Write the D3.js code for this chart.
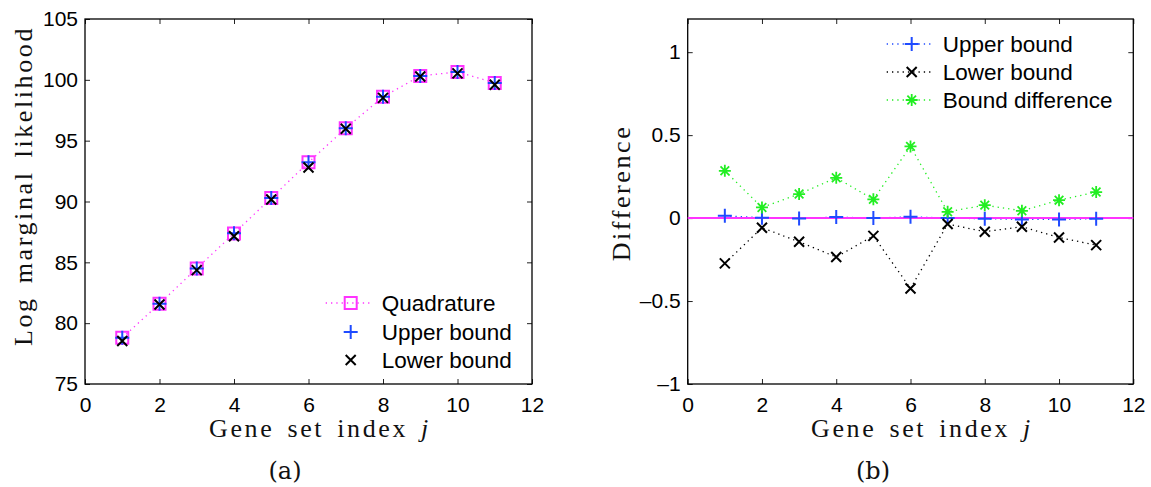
<!DOCTYPE html>
<html>
<head>
<meta charset="utf-8">
<script src="https://cdn.jsdelivr.net/npm/d3@7"></script>
<style>
  body { margin: 0; background: #fff; }
  .tick text { font-family: "Liberation Sans", Arial, sans-serif; font-size: 21px; fill: #000; }
  .tick line { stroke: #222; stroke-width: 1; }
  .lbl { font-family: "Liberation Serif", "Times New Roman", serif; font-size: 26px; letter-spacing: 2.6px; word-spacing: 4px; fill: #111; }
  .cap { font-family: "DejaVu Serif", serif; font-size: 24px; fill: #111; }
  .leg { font-family: "Liberation Sans", Arial, sans-serif; font-size: 22.5px; fill: #000; }
</style>
</head>
<body>
<div id="chart"></div>
<script>
// gene set index j
const geneIndex = [1, 2, 3, 4, 5, 6, 7, 8, 9, 10, 11];

// (a) log marginal likelihood
const quadrature = [78.80, 81.60, 84.50, 87.38, 90.28, 93.22, 96.02, 98.60, 100.32, 100.65, 99.75];
const upperBound = [78.81, 81.60, 84.50, 87.39, 90.28, 93.23, 96.02, 98.60, 100.31, 100.64, 99.75];
const lowerBound = [78.53, 81.54, 84.36, 87.15, 90.17, 92.80, 95.98, 98.52, 100.27, 100.53, 99.59];

// (b) differences
const upperDiff = [0.014, 0.002, -0.002, 0.006, 0.000, 0.008, 0.000, -0.004, -0.008, -0.008, -0.004];
const lowerDiff = [-0.273, -0.058, -0.143, -0.235, -0.107, -0.424, -0.036, -0.082, -0.052, -0.117, -0.163];
const boundDiff = [0.285, 0.064, 0.145, 0.243, 0.113, 0.432, 0.038, 0.078, 0.044, 0.108, 0.157];

const xTicks = [0, 2, 4, 6, 8, 10, 12];
const yTicksA = [75, 80, 85, 90, 95, 100, 105];
const yTicksB = [-1, -0.5, 0, 0.5, 1];

const MAGENTA = "#ff33ff", BLUE = "#1f4bff", GREEN = "#22ee22", BLACK = "#000";

const svg = d3.select("#chart").append("svg")
  .attr("width", 1151)
  .attr("height", 487);

// marker path makers
function plusPath(s) { return `M${-s},0H${s}M0,${-s}V${s}`; }
function crossPath(s) { return `M${-s},${-s}L${s},${s}M${-s},${s}L${s},${-s}`; }
function squarePath(s) { return `M${-s},${-s}H${s}V${s}H${-s}Z`; }
function starPath(s) { const d = s * 0.72; return plusPath(s) + crossPath(d); }

function fmtB(d) {
  if (d === 0) return "0";
  return (d < 0 ? "\u2013" : "") + Math.abs(d);
}

function makePanel(opts) {
  const g = svg.append("g").attr("transform", `translate(${opts.left}, ${opts.top})`);
  const w = opts.width, h = opts.height;
  const x = d3.scaleLinear().domain([0, 12]).range([0, w]);
  const y = d3.scaleLinear().domain(opts.yDomain).range([h, 0]);

  // axes, inside ticks on all four sides
  g.append("g").attr("transform", `translate(0, ${h})`)
    .call(d3.axisBottom(x).tickValues(xTicks).tickSize(-5).tickPadding(13))
    .call(a => a.select(".domain").remove());
  g.append("g")
    .call(d3.axisTop(x).tickValues(xTicks).tickSize(-5).tickFormat(""))
    .call(a => a.select(".domain").remove());
  g.append("g")
    .call(d3.axisLeft(y).tickValues(opts.yTicks).tickSize(-5).tickPadding(7).tickFormat(opts.fmt))
    .call(a => a.select(".domain").remove());
  g.append("g").attr("transform", `translate(${w}, 0)`)
    .call(d3.axisRight(y).tickValues(opts.yTicks).tickSize(-5).tickFormat(""))
    .call(a => a.select(".domain").remove());
  g.selectAll(".tick text").attr("fill", "#000");

  g.append("rect")
    .attr("width", w).attr("height", h)
    .attr("fill", "none").attr("stroke", "#000").attr("stroke-width", 1.3);

  return { g, x, y };
}

function drawLine(p, vals, color) {
  p.g.append("path")
    .datum(vals)
    .attr("fill", "none")
    .attr("stroke", color)
    .attr("stroke-width", 1.3)
    .attr("stroke-dasharray", "1.3,4")
    .attr("d", d3.line().x((d, i) => p.x(geneIndex[i])).y(d => p.y(d)));
}

function drawMarkers(p, vals, color, shape, size, sw) {
  p.g.append("g").selectAll("path")
    .data(vals)
    .join("path")
    .attr("transform", (d, i) => `translate(${p.x(geneIndex[i])}, ${p.y(d)})`)
    .attr("d", shape(size))
    .attr("fill", "none")
    .attr("stroke", color)
    .attr("stroke-width", sw);
}

function legendRow(x0, yy, lineColor, shape, color, size, sw, label, withLine) {
  const lg = svg.append("g");
  if (withLine) {
    lg.append("line")
      .attr("x1", x0 - 25).attr("x2", x0 + 22).attr("y1", yy).attr("y2", yy)
      .attr("stroke", lineColor).attr("stroke-width", 1.3).attr("stroke-dasharray", "1.3,4");
  }
  lg.append("path")
    .attr("transform", `translate(${x0}, ${yy})`)
    .attr("d", shape(size))
    .attr("fill", "none").attr("stroke", color).attr("stroke-width", sw);
  lg.append("text").attr("class", "leg")
    .attr("x", x0 + 31).attr("y", yy).attr("dy", "0.36em")
    .text(label);
}

// ---- panel (a)
const pa = makePanel({ left: 85, top: 19, width: 447, height: 365, yDomain: [75, 105], yTicks: yTicksA, fmt: d3.format("d") });
drawLine(pa, quadrature, MAGENTA);
drawMarkers(pa, quadrature, MAGENTA, squarePath, 6, 2);
drawMarkers(pa, upperBound, BLUE, plusPath, 7, 2);
drawMarkers(pa, lowerBound, BLACK, crossPath, 5, 2);

legendRow(350.7, 303, MAGENTA, squarePath, MAGENTA, 6, 2, "Quadrature", true);
legendRow(350.7, 332, BLUE, plusPath, BLUE, 7, 2, "Upper bound", false);
legendRow(350.7, 360, BLACK, crossPath, BLACK, 5, 2, "Lower bound", false);

svg.append("text").attr("class", "lbl")
  .attr("transform", "translate(32, 186) rotate(-90)")
  .attr("text-anchor", "middle")
  .text("Log marginal likelihood");
const xla = svg.append("text").attr("class", "lbl")
  .attr("x", 320).attr("y", 437).attr("text-anchor", "middle");
xla.append("tspan").text("Gene set index ");
xla.append("tspan").attr("font-style", "italic").text("j");
svg.append("text").attr("class", "cap")
  .attr("x", 285).attr("y", 479).attr("text-anchor", "middle").text("(a)");

// ---- panel (b)
const pb = makePanel({ left: 687.7, top: 19, width: 445.6, height: 365, yDomain: [-1, 1.2], yTicks: yTicksB, fmt: fmtB });
drawLine(pb, upperDiff, BLUE);
drawLine(pb, lowerDiff, BLACK);
drawLine(pb, boundDiff, GREEN);
pb.g.append("line")
  .attr("x1", pb.x(0)).attr("x2", pb.x(12))
  .attr("y1", pb.y(0)).attr("y2", pb.y(0))
  .attr("stroke", MAGENTA).attr("stroke-width", 2);
drawMarkers(pb, upperDiff, BLUE, plusPath, 7, 2);
drawMarkers(pb, lowerDiff, BLACK, crossPath, 5, 2);
drawMarkers(pb, boundDiff, GREEN, starPath, 6, 1.8);

legendRow(911.7, 44, BLUE, plusPath, BLUE, 7, 2, "Upper bound", true);
legendRow(911.7, 72, BLACK, crossPath, BLACK, 5, 2, "Lower bound", true);
legendRow(911.7, 100, GREEN, starPath, GREEN, 6, 1.8, "Bound difference", true);

svg.append("text").attr("class", "lbl")
  .attr("transform", "translate(630, 193) rotate(-90)")
  .attr("text-anchor", "middle")
  .text("Difference");
const xlb = svg.append("text").attr("class", "lbl")
  .attr("x", 922).attr("y", 437).attr("text-anchor", "middle");
xlb.append("tspan").text("Gene set index ");
xlb.append("tspan").attr("font-style", "italic").text("j");
svg.append("text").attr("class", "cap")
  .attr("x", 873).attr("y", 479).attr("text-anchor", "middle").text("(b)");
</script>
</body>
</html>
